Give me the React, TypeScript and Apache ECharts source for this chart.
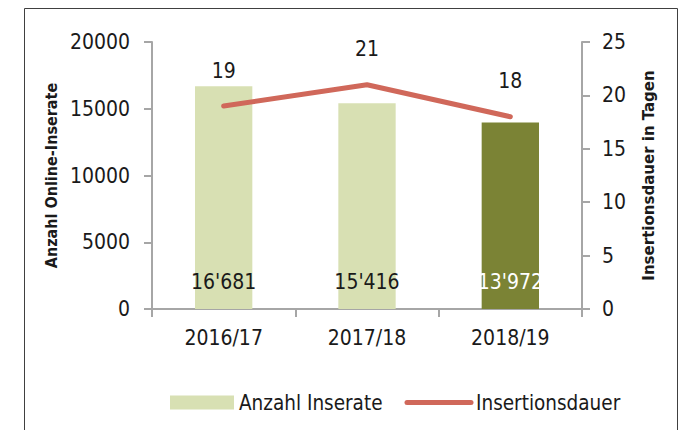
import React, { useEffect, useRef } from "react";
import * as echarts from "echarts";

const categories = ["2016/17", "2017/18", "2018/19"];
const inserate = [16681, 15416, 13972];
const dauer = [19, 21, 18];
const inserateLabels = ["16'681", "15'416", "13'972"];
const highlightIndex = 2;

const FONT = "'DejaVu Sans Condensed', 'Liberation Sans Narrow', 'Arial Narrow', sans-serif";

export default function App() {
  const ref = useRef<HTMLDivElement>(null);
  useEffect(() => {
    document.body.style.margin = "0";
    const chart = echarts.init(ref.current!, null, { renderer: "svg" });
    const axisColor = "#a6a6a6";
    chart.setOption({
      animation: false,
      backgroundColor: "#ffffff",
      textStyle: { fontFamily: FONT },
      grid: { left: 152, right: 100, top: 42, bottom: 121, containLabel: false },
      graphic: [
        {
          type: "polyline",
          shape: { points: [[24.5, 430], [24.5, 8.5], [677.5, 8.5], [677.5, 430]] },
          style: { stroke: "#404040", lineWidth: 1, fill: "none" },
        },
      ],
      legend: {
        left: 165,
        top: 387,
        itemWidth: 64,
        itemHeight: 14,
        itemGap: 22,
        textStyle: { fontFamily: FONT, fontSize: 20.5, color: "#1a1a1a" },
        data: [
          { name: "Anzahl Inserate", icon: "rect", itemStyle: { color: "#d8e0b3" } },
          {
            name: "Insertionsdauer",
            itemStyle: { opacity: 0 },
            lineStyle: { width: 5, color: "#d0685a", cap: "round" },
          },
        ],
      },
      xAxis: {
        type: "category",
        data: categories,
        axisLine: { lineStyle: { color: axisColor, width: 2 } },
        axisTick: { show: true, length: 8, lineStyle: { color: axisColor, width: 2 } },
        axisLabel: { color: "#1a1a1a", fontSize: 21, fontFamily: FONT, margin: 18 },
      },
      yAxis: [
        {
          type: "value",
          min: 0,
          max: 20000,
          interval: 5000,
          name: "Anzahl Online-Inserate",
          nameLocation: "middle",
          nameGap: 92,
          nameTextStyle: { fontFamily: FONT, fontSize: 16, fontWeight: "bold", color: "#1a1a1a" },
          axisLine: { show: true, lineStyle: { color: axisColor, width: 2 } },
          axisTick: { show: true, length: 8, lineStyle: { color: axisColor, width: 2 } },
          axisLabel: {
            color: "#1a1a1a",
            fontSize: 21,
            fontFamily: FONT,
            margin: 22,
            formatter: (v: number) => String(v),
          },
          splitLine: { show: false },
        },
        {
          type: "value",
          min: 0,
          max: 25,
          interval: 5,
          position: "right",
          name: "Insertionsdauer in Tagen",
          nameLocation: "middle",
          nameGap: 57,
          nameRotate: 90,
          nameTextStyle: { fontFamily: FONT, fontSize: 16.7, fontWeight: "bold", color: "#1a1a1a" },
          axisLine: { show: true, lineStyle: { color: axisColor, width: 2 } },
          axisTick: { show: true, length: 8, lineStyle: { color: axisColor, width: 2 } },
          axisLabel: { color: "#1a1a1a", fontSize: 21, fontFamily: FONT, margin: 20 },
          splitLine: { show: false },
        },
      ],
      series: [
        {
          name: "Anzahl Inserate",
          type: "bar",
          barWidth: "40%",
          itemStyle: { color: "#d8e0b3" },
          data: inserate.map((v, i) => ({
            value: v,
            itemStyle: { color: i === highlightIndex ? "#7b8335" : "#d8e0b3" },
            label: {
              show: true,
              position: "insideBottom",
              distance: 17,
              formatter: inserateLabels[i],
              color: i === highlightIndex ? "#ffffff" : "#1a1a1a",
              fontSize: 21,
              fontFamily: FONT,
            },
          })),
        },
        {
          name: "Insertionsdauer",
          type: "line",
          yAxisIndex: 1,
          symbol: "circle",
          symbolSize: 0.1,
          data: dauer,
          lineStyle: { color: "#d0685a", width: 5, cap: "round", join: "round" },
          itemStyle: { color: "#d0685a" },
          label: {
            show: true,
            position: "top",
            distance: 25,
            color: "#1a1a1a",
            fontSize: 21,
            fontFamily: FONT,
          },
        },
      ],
    });
    return () => chart.dispose();
  }, []);
  return (
    <div
      ref={ref}
      style={{ position: "absolute", left: 0, top: 0, width: 682, height: 430 }}
    />
  );
}
